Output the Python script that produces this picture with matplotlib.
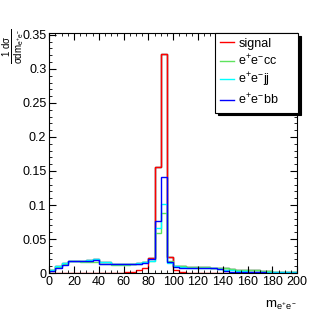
import numpy as np
import matplotlib
matplotlib.use('Agg')
import matplotlib.pyplot as plt
from matplotlib.ticker import MultipleLocator

plt.rcParams['font.family'] = ['Liberation Sans', 'DejaVu Sans']
plt.rcParams['mathtext.fontset'] = 'custom'
plt.rcParams['mathtext.rm'] = 'Liberation Sans'
plt.rcParams['mathtext.it'] = 'Liberation Sans'

# 40 bins of 5 GeV, 0-200
edges = np.arange(0, 205, 5)

signal = [0, 0, 0, 0, 0, 0, 0, 0, 0, 0,
          0, 0, 0.001, 0.002, 0.004, 0.008, 0.022, 0.156, 0.322, 0.024,
          0.004, 0.001, 0, 0, 0, 0, 0, 0, 0, 0,
          0, 0, 0, 0, 0, 0, 0, 0, 0, 0]
eecc = [0.004, 0.009, 0.014, 0.017, 0.017, 0.016, 0.016, 0.016, 0.013, 0.013,
        0.012, 0.012, 0.012, 0.013, 0.014, 0.016, 0.018, 0.059, 0.088, 0.017,
        0.011, 0.010, 0.009, 0.009, 0.009, 0.009, 0.008, 0.008, 0.007, 0.006,
        0.005, 0.004, 0.004, 0.004, 0.003, 0.003, 0.002, 0.002, 0.001, 0.001]
eejj = [0.005, 0.010, 0.015, 0.018, 0.018, 0.018, 0.019, 0.020, 0.016, 0.016,
        0.014, 0.014, 0.014, 0.014, 0.015, 0.016, 0.018, 0.066, 0.101, 0.015,
        0.010, 0.009, 0.008, 0.008, 0.008, 0.007, 0.007, 0.006, 0.005, 0.004,
        0.003, 0.003, 0.002, 0.002, 0.002, 0.001, 0.001, 0.001, 0.001, 0.001]
eebb = [0.003, 0.008, 0.012, 0.017, 0.018, 0.018, 0.018, 0.019, 0.014, 0.014,
        0.013, 0.013, 0.013, 0.013, 0.014, 0.015, 0.020, 0.076, 0.141, 0.016,
        0.009, 0.008, 0.007, 0.007, 0.007, 0.007, 0.007, 0.006, 0.003, 0.002,
        0.001, 0.001, 0.001, 0.001, 0.001, 0, 0, 0, 0, 0]

labels = ['signal', r'e$^{+}$e$^{-}$cc', r'e$^{+}$e$^{-}$jj', r'e$^{+}$e$^{-}$bb']
colors = ['red', '#5ee35e', 'cyan', 'blue']
series = [signal, eecc, eejj, eebb]

fig = plt.figure(figsize=(3.32, 3.22), dpi=100)
ax = fig.add_axes([0.148, 0.152, 0.747, 0.746])

envelope = np.max(np.array(series), axis=0)
ax.stairs(envelope, edges, color='black', lw=1.0)
for vals, c, lab in zip(series, colors, labels):
    ax.stairs(vals, edges, color=c, lw=1.0, label=lab)

ax.set_xlim(0, 200)
ax.set_ylim(0, 0.353)
ax.xaxis.set_major_locator(MultipleLocator(20))
ax.xaxis.set_minor_locator(MultipleLocator(5))
ax.yaxis.set_minor_locator(MultipleLocator(0.01))
ax.tick_params(which='both', direction='in', top=True, right=True, labelsize=9, pad=2)
ax.tick_params(which='major', length=5)
ax.tick_params(which='minor', length=2.5)
ax.set_yticks([0, 0.05, 0.1, 0.15, 0.2, 0.25, 0.3, 0.35])
ax.set_yticklabels(['0', '0.05', '0.1', '0.15', '0.2', '0.25', '0.3', '0.35'])
for s in ax.spines.values():
    s.set_linewidth(0.8)

fig.text(1 / 332, 1 - 46 / 322, r'$\frac{1\ d\sigma}{\sigma dm_{e^{+}e^{-}}}$', rotation=90,
         ha='left', va='center', fontsize=10)
fig.text(0.895, 0.05, r'm$_{e^{+}e^{-}}$', ha='right', va='center', fontsize=9.5)

leg = ax.legend(loc='upper left', bbox_to_anchor=(0.669, 0.0, 0.335, 1.0), mode='expand',
                frameon=True, fancybox=False,
                shadow={'color': 'black', 'alpha': 1.0}, fontsize=9, handlelength=1.1,
                borderpad=0.4, labelspacing=0.25, handletextpad=0.35, borderaxespad=0.0)
leg.get_frame().set_edgecolor('black')
leg.get_frame().set_linewidth(0.8)
leg.get_frame().set_boxstyle('square', pad=0)

fig.savefig('out.png', dpi=100)
